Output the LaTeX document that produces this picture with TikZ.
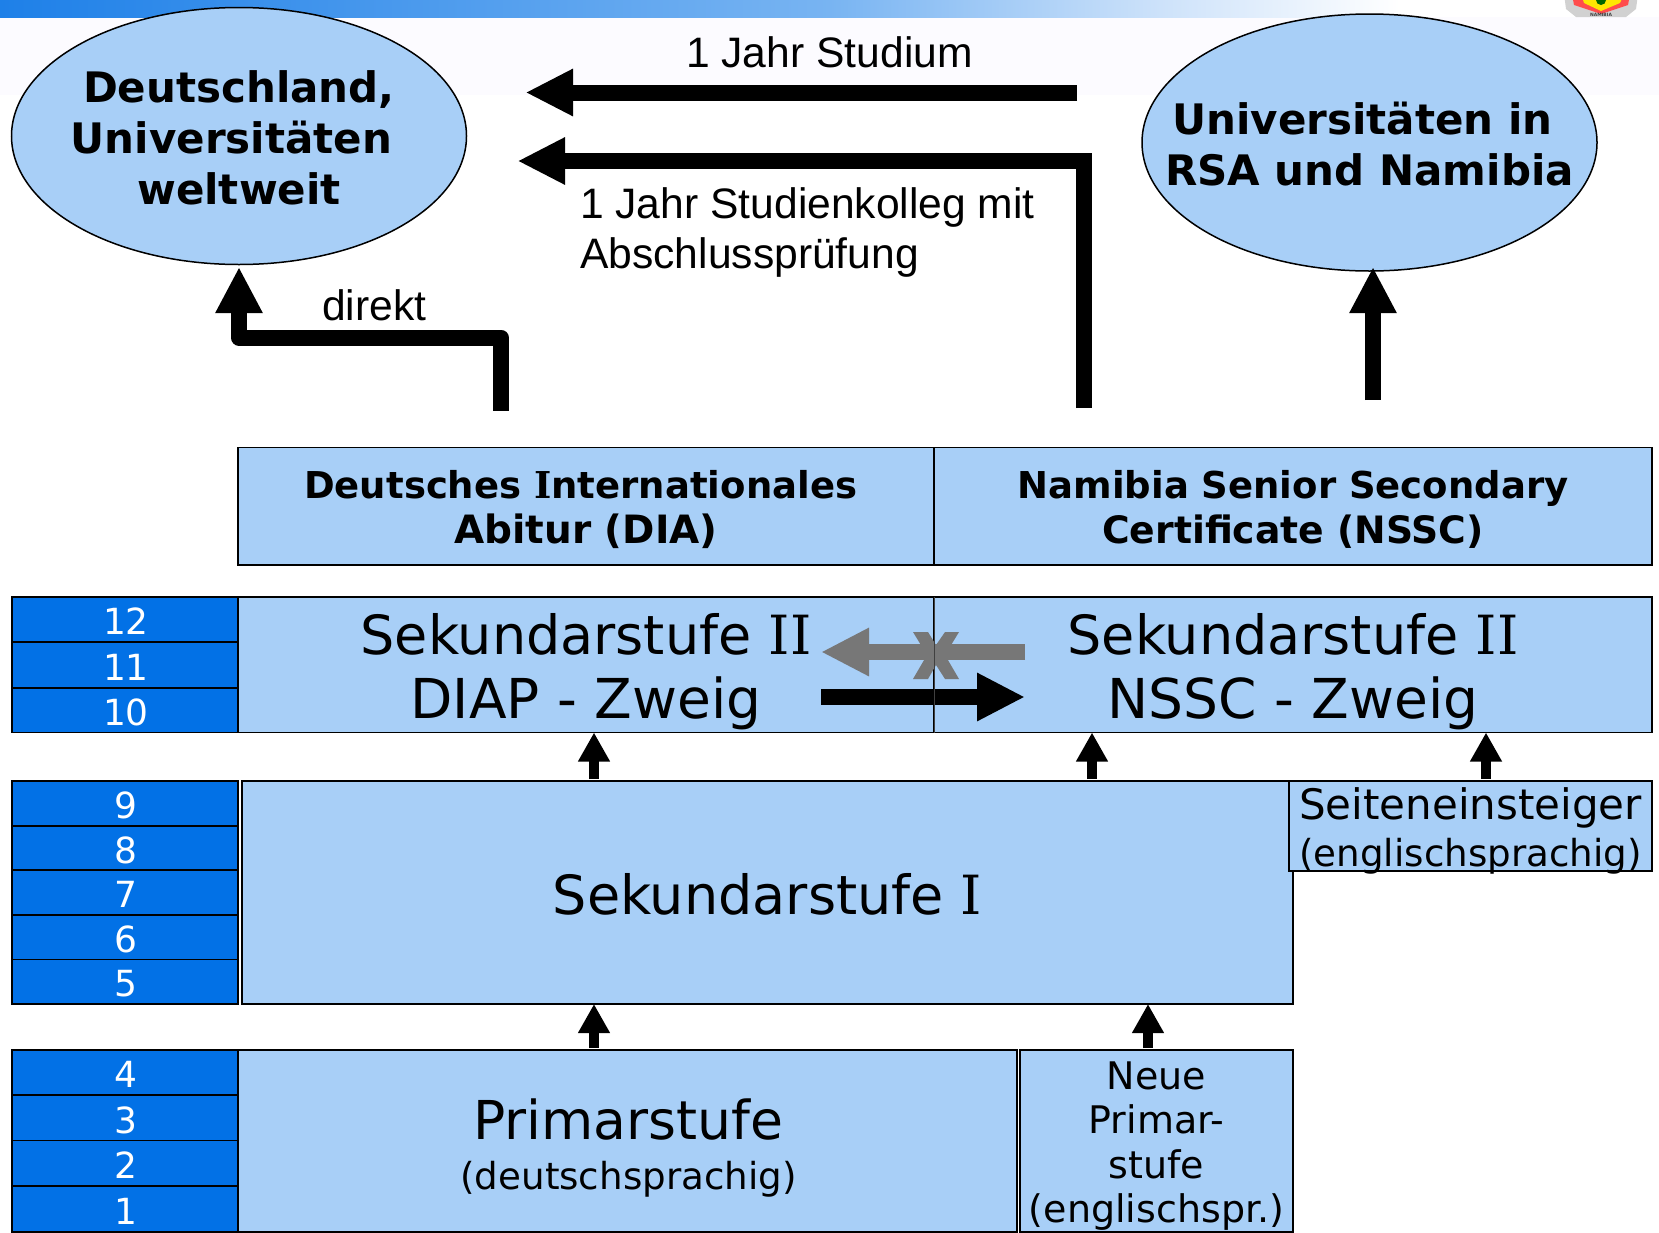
\documentclass[tikz,border=0pt]{standalone}
\usepackage{fontspec}
\setmainfont{DejaVu Sans}
\newfontfamily\arialf{Liberation Sans}
\newfontfamily\serifI{DejaVu Serif}
\usetikzlibrary{arrows.meta,calc,shapes.geometric}
\definecolor{boxblue}{RGB}{168,207,247}
\definecolor{numblue}{RGB}{2,113,230}
\definecolor{bargrey}{RGB}{119,119,119}
\definecolor{topblue}{RGB}{30,128,232}
\definecolor{topmid}{RGB}{120,180,242}
\definecolor{toplight}{RGB}{205,226,250}
\definecolor{stripe}{RGB}{252,251,255}
\newcommand{\VI}{{\serifI I}}
\newcommand{\VIB}{{\serifI\bfseries I}}
\newcommand{\fsz}[2]{{\fontsize{#1}{#1}\selectfont #2}}
\tikzset{
  lvl/.style={draw=black,line width=1.8pt,fill=boxblue,inner sep=0pt,outer sep=0pt,anchor=north west},
  num/.style={draw=black,line width=1.8pt,fill=numblue,text=white,inner sep=0pt,outer sep=0pt,anchor=north west,minimum width=226pt,text height=30.5pt,text depth=0pt,font=\fontsize{36}{36}\selectfont},
  oval/.style={ellipse,draw=black,line width=1.5pt,fill=boxblue,inner sep=0pt,outer sep=0pt,minimum width=455pt,minimum height=257pt},
  txt/.style={inner sep=0pt,outer sep=0pt,align=center},
  ovaltext/.style={txt,font=\fontsize{42}{51}\selectfont\bfseries},
  big/.style={txt,font=\fontsize{54}{63.5}\selectfont},
  cert/.style={txt,font=\fontsize{37}{45}\selectfont\bfseries},
  lab/.style={inner sep=0pt,align=left,anchor=west,font=\arialf\fontsize{42.6}{50.5}\selectfont},
  bigarrow/.style={line width=16pt,-{Triangle[length=46pt,width=44pt]},black},
  leftarrow/.style={line width=16pt,-{Triangle[length=47.5pt,width=44pt]},black},
  cross/.style={line width=16pt,-{Triangle[length=48pt,width=45pt]}},
  smallarrow/.style={line width=10.5pt,-{Triangle[length=29pt,width=30pt]},black}
}
\begin{document}
\begin{tikzpicture}[x=1pt,y=-1pt]
\useasboundingbox (0,0) rectangle (1659,1232);
% header
\fill[white] (0,0) rectangle (1659,1232);
\fill[stripe] (0,17) rectangle (1659,95);
\shade[left color=topblue,right color=topmid] (0,0) rectangle (830,17);
\shade[left color=topmid,right color=toplight] (830,0) rectangle (1160,17);
\shade[left color=toplight,right color=white] (1160,0) rectangle (1400,17);
\begin{scope}
\clip (1555,0) rectangle (1645,17);
\fill[black!18] (1564,-6) -- (1638,-6) -- (1636,9) -- (1626,17) -- (1576,17) -- (1566,9) -- cycle;
\fill[red!70] (1572,-6) -- (1630,-6) -- (1628,5) -- (1601,14) -- (1574,5) -- cycle;
\fill[yellow!90!orange] (1581,-6) -- (1624,-6) -- (1620,3) -- (1601,11) -- (1584,3) -- cycle;
\fill[black!60!green] (1601,0) circle (5);
\node[inner sep=0pt,font=\fontsize{4.5}{5}\selectfont\bfseries,text=black!75] (logotext) at (1601,14.5) {NAMIBIA};
\end{scope}
% ellipses
\node[oval] (welt) at (239,136) {};
\node[ovaltext] (weltT) at (239,138) {Deutschland,\\\mbox{Universitäten\kern15pt}\\weltweit};
\node[oval] (rsa) at (1369.5,142.5) {};
\node[ovaltext] (rsaT) at (1369.5,144.5) {\mbox{Universitäten in\kern14pt}\\RSA und Namibia};
% certificates
\node[lvl,minimum width=696pt,minimum height=117.5pt] (dia) at (238,447.5) {};
\node[cert] (diaT) at ($(dia.center)+(0,3.2)$) {\mbox{Deutsches \VIB nternationales\kern10.6pt}\\\fsz{39}{Abitur (DIA)}};
\node[lvl,minimum width=718pt,minimum height=117.5pt] (nssc) at (934,447.5) {};
\node[cert] (nsscT) at ($(nssc.center)+(0,3.2)$) {Namibia Senior Secondary\\\fsz{37.7}{Certificate (NSSC)}};
% numbers
\node[num,minimum height=45pt] (n12) at (12,597) {\hspace*{2pt}12};
\node[num,minimum height=46pt] (n11) at (12,642) {\hspace*{2pt}11};
\node[num,minimum height=44.5pt] (n10) at (12,688) {\hspace*{2pt}10};
\node[num,minimum height=44.6pt] (n9) at (12,781) {\hspace*{2pt}9};
\node[num,minimum height=44.6pt] (n8) at (12,825.6) {\hspace*{2pt}8};
\node[num,minimum height=44.6pt] (n7) at (12,870.2) {\hspace*{2pt}7};
\node[num,minimum height=44.6pt] (n6) at (12,914.8) {\hspace*{2pt}6};
\node[num,minimum height=44.6pt] (n5) at (12,959.4) {\hspace*{2pt}5};
\node[num,minimum height=45pt] (n4) at (12,1050) {\hspace*{2pt}4};
\node[num,minimum height=45.5pt] (n3) at (12,1095) {\hspace*{2pt}3};
\node[num,minimum height=45.5pt] (n2) at (12,1140.5) {\hspace*{2pt}2};
\node[num,minimum height=46pt] (n1) at (12,1186) {\hspace*{2pt}1};
% levels
\node[lvl,minimum width=696pt,minimum height=135.5pt] (sekA) at (238,597) {};
\node[big] (sekAT) at ($(sekA.center)+(0,7)$) {Sekundarstufe \VI\VI\\\fsz{55}{DIAP - Zweig}};
\node[lvl,minimum width=718pt,minimum height=135.5pt] (sekB) at (934,597) {};
\node[big] (sekBT) at ($(sekB.center)+(0,7)$) {Sekundarstufe \VI\VI\\\fsz{55}{NSSC - Zweig}};
\node[lvl,minimum width=1051pt,minimum height=223pt] (sekI) at (242,781) {};
\node[big] (sekIT) at ($(sekI.center)+(0,2)$) {Sekundarstufe \VI};
\node[lvl,minimum width=363pt,minimum height=90pt] (seit) at (1289,781) {};
\node[txt,font=\fontsize{42}{48}\selectfont] (seitT) at ($(seit.center)+(0,5)$) {Seiteneinsteiger\\[-1pt]\fsz{37.2}{(englischsprachig)}};
\node[lvl,minimum width=779pt,minimum height=182pt] (prim) at (238,1050) {};
\node[txt,font=\fontsize{53.6}{63.5}\selectfont] (primT) at ($(prim.center)+(1,7)$) {Primarstufe\\[-14.3pt]\fsz{37.2}{(deutschsprachig)}};
\node[lvl,minimum width=273pt,minimum height=182pt] (neu) at (1020,1050) {};
\node[txt,font=\fontsize{38}{44.5}\selectfont] (neuT) at ($(neu.center)+(0,5.3)$) {Neue\\Primar-\\stufe\\(englischspr.)};
% named ends and columns
\coordinate (cA) at (594,0);
\coordinate (cB) at (1092,0);
\coordinate (cC) at (1486,0);
\coordinate (cD) at (1148,0);
\coordinate (s1) at (1077,92.5);
\coordinate (e1) at (525.5,92.5);
\coordinate (s2) at (1083.5,408);
\coordinate (m2) at (1083.5,161);
\coordinate (e2) at (517.5,161);
\coordinate (s3) at (501,410.7);
\coordinate (m3a) at (501,337.5);
\coordinate (m3b) at (239,337.5);
\coordinate (s4) at (1373,400);
\coordinate (gs) at (1025,652);
\coordinate (ge) at (821,652);
\coordinate (bs) at (821,697);
\coordinate (be) at (1025,697);
% big arrows
\draw[leftarrow] (s1) -- (e1);
\draw[leftarrow,line join=miter] (s2) -- (m2) -- (e2);
\draw[bigarrow,line join=round] (s3) -- (m3a) -- (m3b) -- ($(welt.south)+(0,2.5)$);
\draw[bigarrow] (s4) -- ($(rsa.south)+(3.5,-4)$);
% crossing arrows
\draw[cross,bargrey] (gs) -- (ge);
\fill[bargrey] (913,632) -- (928,632) -- (936,645) -- (945,632) -- (959,632) -- (945,655) -- (959,679) -- (945,679) -- (936,665) -- (928,679) -- (913,679) -- (927,655) -- cycle;
\draw[cross,black] (bs) -- (be);
\draw[line width=1pt,black!75] (sekA.north east) -- (sekA.south east);
% small arrows
\draw[smallarrow,shorten <=2pt] (sekI.north -| cA) -- (sekA.south -| cA);
\draw[smallarrow,shorten <=2pt] (sekI.north -| cB) -- (sekB.south -| cB);
\draw[smallarrow,shorten <=2pt] (seit.north -| cC) -- (sekB.south -| cC);
\draw[smallarrow,shorten <=2pt] (prim.north -| cA) -- (sekI.south -| cA);
\draw[smallarrow,shorten <=2pt] (neu.north -| cD) -- (sekI.south -| cD);
% labels
\node[lab] (l1) at (686,52) {1 Jahr Studium};
\node[lab] (l2) at (580,232.5) {1 Jahr Studienkolleg mit\\Abschlussprüfung};
\node[lab] (l3) at (322,305) {direkt};
\end{tikzpicture}
\end{document}
